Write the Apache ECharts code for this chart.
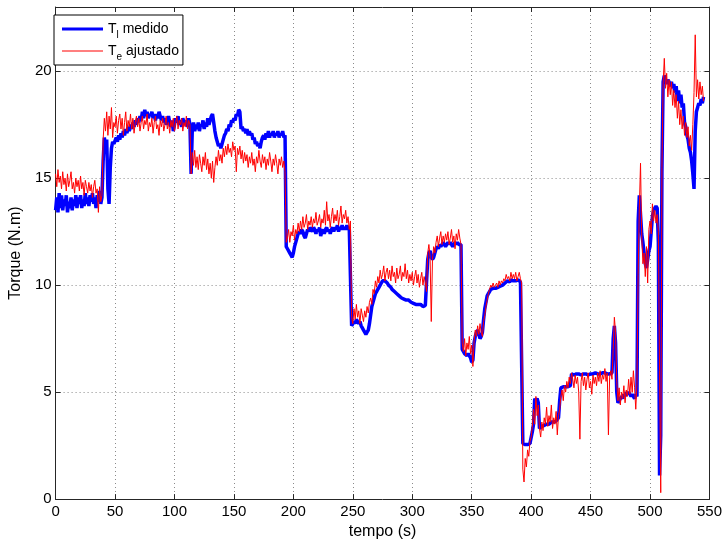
<!DOCTYPE html>
<html><head><meta charset="utf-8">
<script src="https://cdn.jsdelivr.net/npm/echarts@6/dist/echarts.min.js"></script>
<style>html,body{margin:0;padding:0;background:#fff}#c{width:725px;height:545px}</style>
</head><body><div id="c"></div>
<script>
// sampling of both signals (seconds)
const T0 = 0, DT = 1;
const xTicks = [0, 50, 100, 150, 200, 250, 300, 350, 400, 450, 500, 550];
const yTicks = [0, 5, 10, 15, 20];
const xLabel = 'tempo (s)';
const yLabel = 'Torque (N.m)';
const seriesNames = ['Tl medido', 'Te ajustado'];
const legendParts = [['T', 'l', ' medido'], ['T', 'e', ' ajustado']];

// T_l measured (blue), one value per second from t = 0
const measured = [
13.5,14.1,13.4,14.3,13.6,14.2,13.5,14.0,13.7,14.2,
13.4,13.9,13.6,14.1,13.5,14.0,13.7,14.2,13.6,14.1,
13.8,14.2,13.6,14.0,13.7,14.3,13.8,14.1,13.7,14.2,
13.9,14.3,13.8,14.1,13.6,14.2,13.9,14.4,13.8,14.1,
15.8,16.9,16.5,16.8,14.5,13.8,15.5,16.4,16.7,16.6,
16.6,16.9,16.7,17.0,16.8,17.1,16.9,17.2,17.0,17.3,
17.1,17.4,17.2,17.5,17.3,17.6,17.4,17.7,17.5,17.8,
17.6,17.9,17.7,18.1,17.8,18.2,17.9,18.1,17.8,18.0,
17.9,18.1,17.8,18.0,17.7,18.0,17.8,18.1,17.9,17.7,
17.9,17.6,17.8,17.5,17.7,17.9,17.6,17.4,17.7,17.2,
17.5,17.8,17.6,17.9,17.5,17.7,17.4,17.8,17.6,17.5,
17.7,17.4,17.8,17.5,15.2,17.3,17.6,17.2,17.5,17.3,
17.6,17.2,17.5,17.4,17.7,17.3,17.6,17.4,17.8,17.5,
17.7,17.9,18.0,17.6,17.2,16.9,16.7,16.5,16.6,16.4,
16.6,16.8,17.0,17.1,17.3,17.2,17.5,17.4,17.7,17.6,
17.8,17.7,18.0,17.9,18.2,18.1,17.3,17.4,17.2,17.3,
17.1,17.3,17.0,17.2,17.0,17.1,16.8,16.9,16.6,16.7,
16.5,16.6,16.4,16.7,16.9,17.0,16.8,17.1,16.9,17.2,
16.9,17.1,17.0,17.2,16.9,17.1,17.0,17.2,16.9,17.1,
17.0,17.2,16.9,17.0,11.8,11.7,11.6,11.5,11.4,11.3,
11.5,11.8,12.0,12.2,12.4,12.5,12.4,12.6,12.5,12.3,
12.2,12.4,12.6,12.5,12.7,12.6,12.5,12.7,12.6,12.4,
12.6,12.5,12.7,12.3,12.5,12.6,12.4,12.6,12.7,12.5,
12.6,12.4,12.6,12.7,12.5,12.7,12.6,12.8,12.5,12.7,
12.6,12.8,12.6,12.7,12.6,12.8,12.6,12.7,12.7,8.1,
8.2,8.3,8.2,8.4,8.3,8.2,8.3,8.1,8.0,7.9,
7.8,7.7,7.8,7.9,8.2,8.6,9.0,9.2,9.4,9.6,
9.7,9.8,9.9,10.0,10.1,10.2,10.25,10.2,10.2,10.1,
10.0,9.95,9.9,9.8,9.75,9.7,9.65,9.6,9.55,9.5,
9.45,9.4,9.4,9.35,9.3,9.3,9.25,9.3,9.25,9.2,
9.2,9.15,9.15,9.1,9.1,9.1,9.05,9.1,9.05,9.0,
9.0,9.05,9.0,11.2,11.5,11.6,11.3,11.2,11.3,11.5,
11.7,11.8,11.7,11.9,11.8,11.9,12.0,11.9,11.8,11.9,
12.0,11.9,12.0,11.9,11.8,11.9,12.0,11.9,12.0,11.9,
11.95,11.9,7.0,6.9,6.8,6.8,6.7,6.8,6.7,6.6,
6.4,6.5,7.3,7.6,7.8,7.9,7.7,7.5,7.6,7.8,
8.4,8.9,9.2,9.5,9.6,9.7,9.8,9.8,9.85,9.8,
9.85,9.9,9.9,9.85,9.95,10.0,10.0,10.05,10.1,10.15,
10.2,10.2,10.15,10.25,10.2,10.2,10.25,10.2,10.2,10.25,
10.2,10.15,10.1,2.6,2.55,2.55,2.5,2.55,2.55,2.6,
2.6,3.15,3.5,4.7,4.6,4.7,4.5,3.3,3.3,3.4,
3.4,3.45,3.5,3.5,3.55,3.5,3.55,3.6,3.55,3.6,
3.6,3.65,3.7,3.8,4.6,5.2,5.2,5.25,5.2,5.25,
5.2,5.25,5.3,5.3,5.85,5.85,5.8,5.85,5.85,5.8,
5.85,5.85,5.8,5.85,5.85,5.8,5.85,5.85,5.8,5.85,
5.85,5.8,5.85,5.85,5.9,5.85,5.85,5.9,5.85,5.85,
5.9,5.85,5.9,5.9,5.85,5.9,5.85,5.9,5.9,7.5,
8.1,7.3,5.0,4.5,4.6,4.7,4.8,4.7,4.9,4.8,
5.0,4.9,5.0,4.9,4.8,4.9,4.8,4.7,4.9,4.8,
13.0,14.2,13.3,12.4,12.0,11.5,11.0,10.8,11.2,11.6,
11.8,12.5,13.2,13.5,13.6,13.7,13.6,12.0,1.1,3.0,
15.3,19.5,19.8,19.6,19.4,19.6,19.5,19.3,19.5,19.2,
19.4,19.0,19.3,18.6,19.1,18.5,18.9,18.3,18.5,17.6,
17.4,17.0,16.8,16.4,16.2,15.8,15.2,14.5,17.2,18.1,
18.3,18.5,18.4,18.7,18.5,18.8
];

// T_e fitted (red), one value per second from t = 0
const fitted = [
15.2,14.6,15.4,14.8,15.1,14.5,15.3,14.7,15.0,14.4,
15.2,14.6,14.9,15.3,14.5,14.8,14.3,15.0,14.6,14.9,
14.4,15.1,14.5,14.8,14.2,14.9,14.6,14.3,14.8,14.4,
14.7,14.1,14.6,14.9,14.3,14.5,13.4,14.6,13.9,14.2,
16.8,17.8,17.2,18.1,17.0,17.9,17.3,18.3,16.9,17.6,
17.4,17.9,17.1,17.7,18.0,17.3,17.8,17.0,17.6,18.1,
17.2,17.7,17.4,18.0,17.3,17.8,17.1,17.6,17.9,17.4,
17.8,17.2,17.6,17.9,17.3,17.7,17.5,18.0,17.2,17.6,
17.4,17.8,17.1,17.6,17.9,17.3,17.5,17.0,17.7,17.4,
17.8,17.2,17.5,17.9,17.3,17.6,17.1,17.7,17.4,17.8,
17.2,17.6,17.9,17.3,17.7,17.5,17.8,17.2,17.6,17.4,
17.9,17.3,17.7,17.5,15.2,16.2,15.6,16.3,15.5,16.0,
15.4,16.1,15.7,15.3,16.0,15.6,16.2,15.4,15.9,15.2,
15.7,15.0,15.8,14.8,15.5,16.0,15.6,16.3,15.8,16.1,
15.7,16.4,16.0,16.5,16.1,16.6,16.2,16.4,16.0,16.7,
16.3,16.5,15.3,16.4,16.1,16.5,15.9,16.3,15.7,16.2,
15.8,16.1,15.5,16.0,15.7,16.2,15.6,15.9,15.3,16.0,
15.7,16.3,15.8,15.5,16.1,15.7,16.0,15.4,15.9,15.6,
16.2,15.8,15.3,15.9,15.6,16.1,15.7,15.2,15.9,15.6,
16.0,15.5,15.8,15.3,12.0,12.2,12.6,12.0,12.5,12.3,
12.8,12.1,12.6,12.4,12.9,12.5,13.0,12.6,13.2,12.7,
12.9,13.3,12.6,13.0,12.8,13.2,12.7,13.1,12.9,13.4,
12.8,13.0,13.3,12.7,13.1,12.9,13.5,12.8,13.9,13.0,
13.3,12.7,13.2,13.6,12.9,13.3,13.0,13.5,12.8,13.2,
13.7,12.9,13.3,13.1,13.5,12.9,13.2,12.6,13.0,8.5,
8.2,8.9,8.4,9.1,8.5,8.8,8.2,8.9,8.6,8.3,
8.8,8.5,9.0,8.7,9.2,9.4,9.1,9.8,9.6,10.2,
9.9,10.4,10.1,10.7,10.3,10.5,10.9,10.2,10.6,10.8,
10.3,10.7,10.2,10.9,10.4,10.6,10.1,10.8,10.3,10.5,
10.9,10.2,10.6,10.4,11.0,10.3,10.7,10.1,10.5,10.2,
10.6,10.0,10.4,10.7,10.1,10.5,9.9,10.3,10.6,10.0,
10.4,10.1,9.7,11.5,11.9,11.3,8.3,11.2,11.8,11.5,
12.0,12.3,11.8,12.2,12.5,11.9,12.3,12.0,12.4,12.1,
12.5,11.9,12.2,12.6,12.0,12.3,11.7,12.4,12.1,12.6,
12.2,11.9,7.3,6.9,7.5,6.7,7.3,7.0,7.6,6.8,
7.2,6.2,7.4,7.9,7.6,8.1,7.7,8.2,7.8,7.6,
8.3,8.6,9.0,9.3,9.6,9.8,10.0,9.9,10.1,9.9,
10.0,10.1,9.9,10.2,10.0,10.2,10.1,10.3,10.2,10.5,
10.3,10.4,10.2,10.6,10.3,10.5,10.3,10.6,10.2,10.4,
10.6,10.3,10.1,1.4,0.8,1.9,1.5,2.3,2.0,2.7,
2.9,3.4,4.2,3.5,4.8,3.9,4.4,3.3,2.9,3.6,
3.2,3.8,3.5,4.3,3.4,3.9,3.6,4.4,3.3,3.8,
3.5,4.1,3.0,3.9,4.2,4.8,5.1,4.6,5.3,5.0,
5.5,5.2,5.7,5.4,5.9,5.6,5.2,5.8,5.4,5.7,
5.0,2.8,5.5,5.9,5.3,5.7,5.1,5.6,5.9,5.2,
5.5,4.9,5.8,5.4,5.7,5.3,5.9,5.5,6.0,5.4,
5.8,5.6,6.1,5.5,5.9,3.0,5.7,6.0,5.6,7.0,
8.5,7.8,5.5,4.6,5.2,4.4,5.0,4.7,5.3,4.5,
5.1,4.8,5.6,4.9,5.7,5.0,6.0,5.2,4.2,5.4,
10.5,13.6,15.7,12.3,11.0,11.5,10.4,11.8,10.1,12.6,
13.0,12.4,13.8,13.0,13.5,12.9,13.3,12.5,6.0,0.3,
15.5,19.4,20.6,19.2,19.9,18.8,19.6,18.9,19.5,18.4,
19.1,18.3,18.9,17.8,18.6,17.5,18.2,17.3,17.9,17.0,
17.6,16.9,17.4,16.5,17.0,16.3,17.5,19.0,21.7,18.8,
19.6,18.7,19.5,18.9,19.3,18.6
];

const toPairs = arr => arr.map((v, i) => [T0 + i * DT, v]);
const FONT = 'Liberation Sans, Arial, sans-serif';
const AX = '#262626';

const chart = echarts.init(document.getElementById('c'), null, {renderer: 'canvas'});
const common = {
  type: 'value',
  axisLine: {show: true, onZero: false, lineStyle: {color: AX, width: 1}},
  axisTick: {show: true, inside: true, length: 5, lineStyle: {color: AX}},
};
chart.setOption({
  animation: false,
  backgroundColor: '#fff',
  grid: {left: 48, right: 14, top: 7, bottom: 40, containLabel: false},
  xAxis: [
    Object.assign({}, common, {
      min: xTicks[0], max: xTicks[xTicks.length - 1], interval: xTicks[1] - xTicks[0],
      position: 'bottom',
      name: xLabel, nameLocation: 'middle', nameGap: 22,
      nameTextStyle: {fontSize: 16, color: '#000', fontFamily: FONT},
      axisLabel: {show: true, margin: 5, fontSize: 15, color: '#000', fontFamily: FONT,
        formatter: v => xTicks.includes(v) ? String(v) : ''},
      splitLine: {show: true, lineStyle: {type: [1, 3], color: '#8a8a8a', width: 1}}
    }),
    Object.assign({}, common, {
      min: xTicks[0], max: xTicks[xTicks.length - 1], interval: xTicks[1] - xTicks[0],
      position: 'top', axisLabel: {show: false}, splitLine: {show: false}
    })
  ],
  yAxis: [
    Object.assign({}, common, {
      min: 0, max: 23, interval: yTicks[1] - yTicks[0],
      position: 'left',
      name: yLabel, nameLocation: 'middle', nameGap: 21,
      nameTextStyle: {fontSize: 16, color: '#000', fontFamily: FONT},
      axisLabel: {show: true, margin: 4, fontSize: 15, color: '#000', fontFamily: FONT,
        formatter: v => yTicks.includes(v) ? String(v) : ''},
      axisTick: {show: true, inside: true, length: 5, lineStyle: {color: AX},
        customValues: yTicks},
      splitLine: {show: true, lineStyle: {type: [1, 3], color: '#8a8a8a', width: 1}}
    }),
    Object.assign({}, common, {
      min: 0, max: 23, interval: yTicks[1] - yTicks[0],
      position: 'right', axisLabel: {show: false}, splitLine: {show: false},
      axisTick: {show: true, inside: true, length: 5, lineStyle: {color: AX},
        customValues: yTicks}
    })
  ],
  legend: {
    left: 54, top: 15, orient: 'vertical',
    padding: [3, 4, 3, 8], itemGap: 0, itemWidth: 41, itemHeight: 14,
    borderColor: '#000', borderWidth: 1, backgroundColor: '#fff',
    data: [
      {name: seriesNames[0], icon: 'path://M0,0H41V3H0Z'},
      {name: seriesNames[1], icon: 'path://M0,0H41V1H0Z'}
    ],
    formatter: name => {
      const p = legendParts[seriesNames.indexOf(name)];
      return '{m|' + p[0] + '}{s|' + p[1] + '}{m|' + p[2] + '}';
    },
    textStyle: {
      fontFamily: FONT, color: '#000', fontSize: 14, lineHeight: 22,
      rich: {
        m: {fontFamily: FONT, fontSize: 14, color: '#000', lineHeight: 22},
        s: {fontFamily: FONT, fontSize: 10, color: '#000', verticalAlign: 'bottom', lineHeight: 13}
      }
    }
  },
  series: [
    {name: seriesNames[0], type: 'line', data: toPairs(measured), symbol: 'none',
      lineStyle: {color: '#0000ff', width: 3.5}, itemStyle: {color: '#0000ff'}, z: 2},
    {name: seriesNames[1], type: 'line', data: toPairs(fitted), symbol: 'none',
      lineStyle: {color: '#ff0000', width: 1}, itemStyle: {color: '#ff0000'}, z: 3}
  ]
});
</script>
</body></html>
